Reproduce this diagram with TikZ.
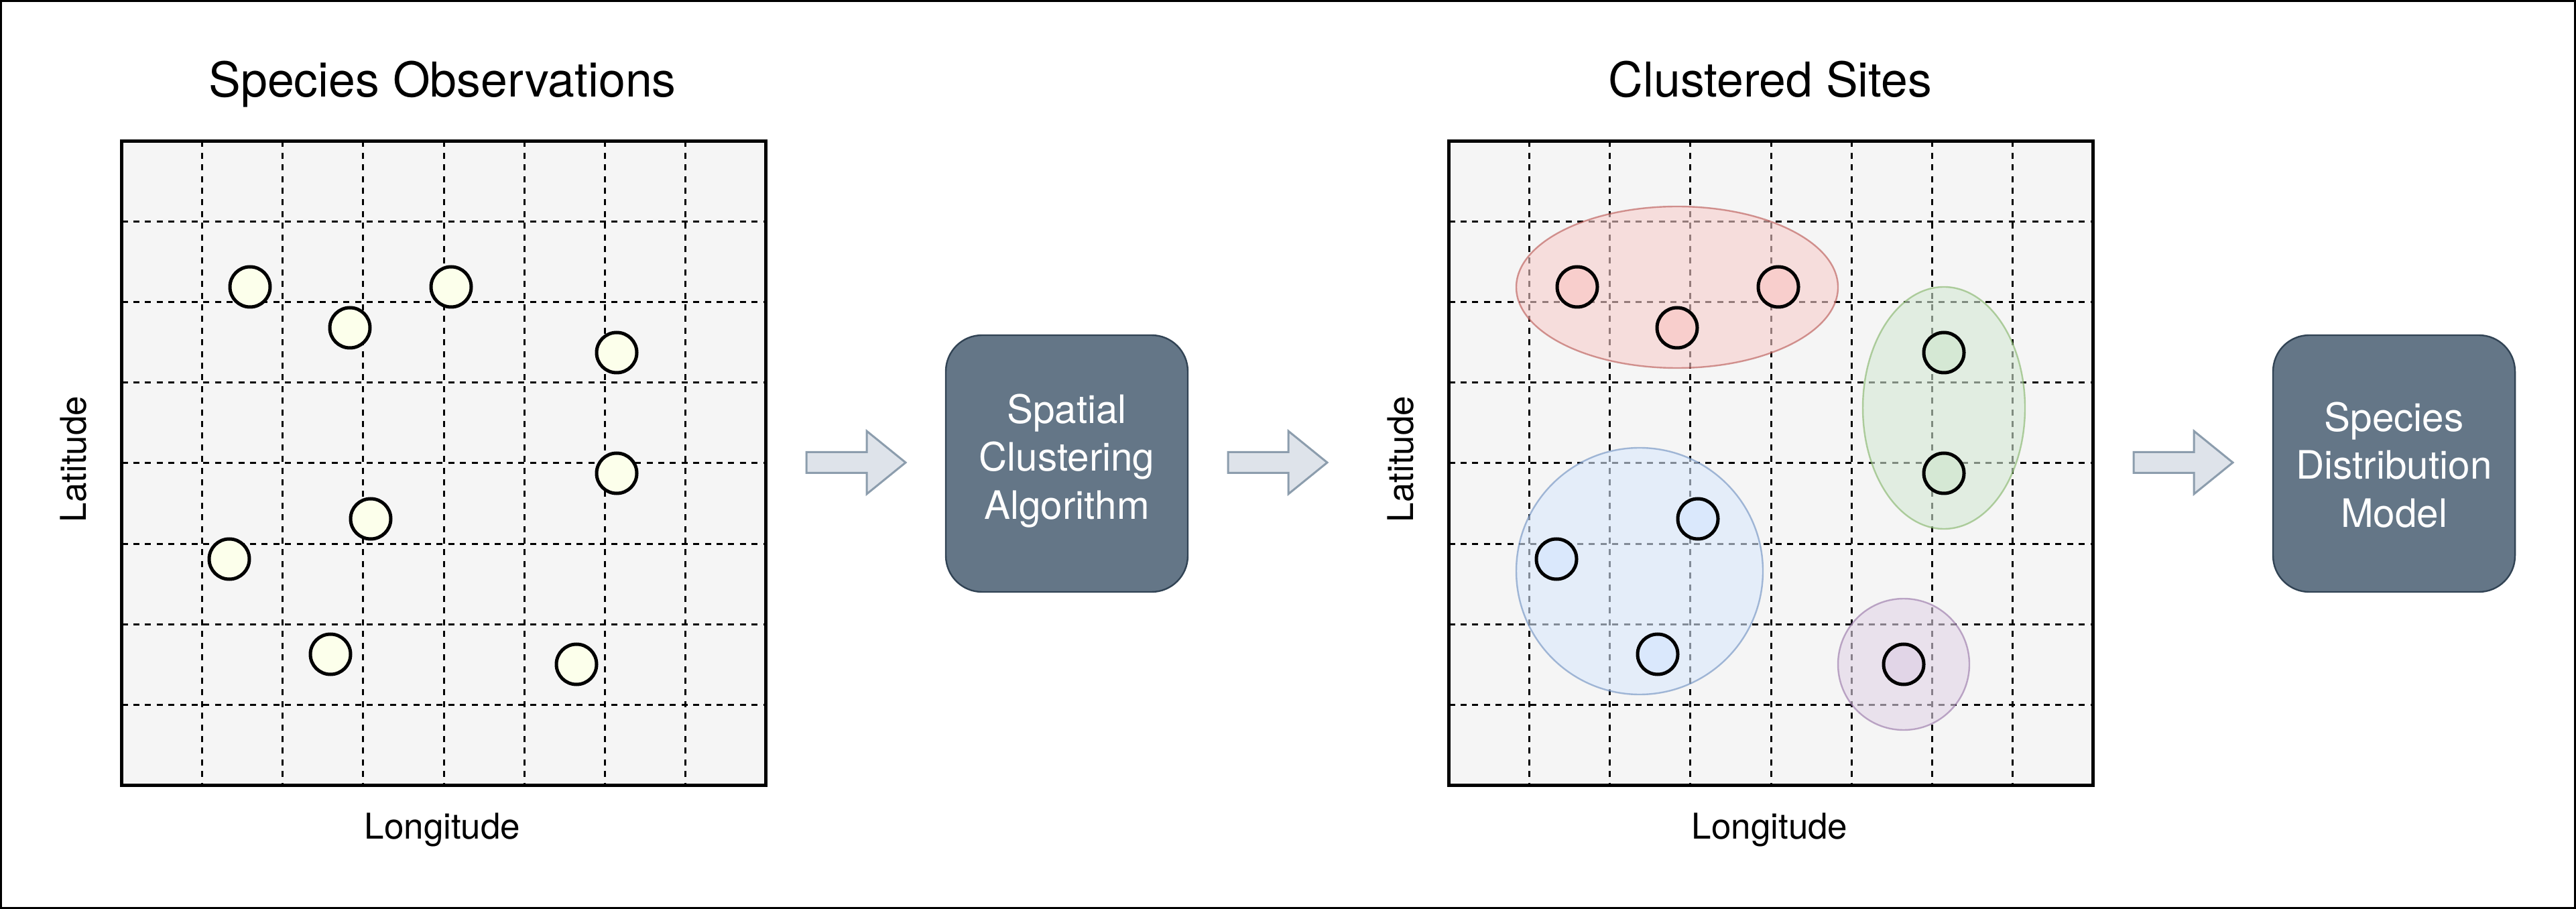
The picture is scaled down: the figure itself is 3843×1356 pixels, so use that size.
\documentclass[tikz,border=0pt]{standalone}
\usepackage{fontspec}
\setmainfont{TeX Gyre Heros}
\usetikzlibrary{shapes.geometric,calc}
\definecolor{gridbg}{HTML}{F5F5F5}
\definecolor{obsfill}{HTML}{FCFFEB}
\definecolor{boxfill}{HTML}{647687}
\definecolor{boxline}{HTML}{314354}
\definecolor{arrfill}{HTML}{DEE3EA}
\definecolor{arrline}{HTML}{8C9DAD}
\definecolor{redf}{HTML}{F8CECC}\definecolor{reds}{HTML}{B85450}
\definecolor{greenf}{HTML}{D5E8D4}\definecolor{greens}{HTML}{82B366}
\definecolor{bluef}{HTML}{DAE8FC}\definecolor{blues}{HTML}{6C8EBF}
\definecolor{purplef}{HTML}{E1D5E7}\definecolor{purples}{HTML}{9673A6}
\newcommand\flowarrow[1]{\draw[blockarrow] (#1) ++(0,-15.5) -- ++(90,0) -- ++(0,-31.5) -- ++(58,47) -- ++(-58,47) -- ++(0,-31.5) -- ++(-90,0) -- cycle;}
\newcommand\mapgrid[1]{%
  \foreach \k in {1,...,7} {
    \draw[gridline] ($(#1.north west)!\k/8!(#1.north east)$) -- ($(#1.south west)!\k/8!(#1.south east)$);
    \draw[gridline] ($(#1.north west)!\k/8!(#1.south west)$) -- ($(#1.north east)!\k/8!(#1.south east)$);
  }%
}
\begin{document}
\begin{tikzpicture}[x=0.25pt,y=-0.25pt,
  mapbox/.style={fill=gridbg,minimum size=240.25pt,inner sep=0pt,outer sep=0pt},
  gridline/.style={line width=0.75pt,dash pattern=on 2.25pt off 2.1pt},
  gridframe/.style={line width=1.25pt,line join=miter},
  site/.style={circle,draw=black,line width=1.25pt,minimum size=15pt,inner sep=0pt},
  obs/.style={site,fill=obsfill},
  cluster/.style={ellipse,draw=#1s,fill=#1f,fill opacity=0.6,draw opacity=0.6,line width=0.6pt,inner sep=0pt},
  procbox/.style={draw=boxline,fill=boxfill,rounded corners=13.5pt,minimum width=90.25pt,minimum height=95.75pt,line width=0.6pt,inner sep=0pt,outer sep=0pt},
  proctext/.style={text=white,align=center,font=\fontsize{14.6}{17.95}\selectfont,inner sep=0pt},
  blockarrow/.style={fill=arrfill,draw=arrline,line width=0.75pt,line join=miter},
  titletext/.style={font=\fontsize{17.9}{21}\selectfont,anchor=base,inner sep=0pt},
  axistext/.style={font=\fontsize{13.25}{16}\selectfont,anchor=base,inner sep=0pt}
]
\useasboundingbox (0,0) rectangle (3843,1356);
\draw[line width=0.75pt] (1.5,1.5) rectangle (3841.5,1354.5);

% ---------- left map ----------
\node[mapbox] (map1) at (662,691) {};
\mapgrid{map1}
\draw[gridframe] (map1.north west) rectangle (map1.south east);
\node[titletext] (t1) at (660,144.5) {Species Observations};
\node[axistext] (lon1) at (660,1251) {Longitude};
\node[axistext,rotate=90] (lat1) at (128.5,685) {Latitude};
\node[obs] (o1) at (373,428) {};
\node[obs] (o2) at (673,428) {};
\node[obs] (o3) at (522,489) {};
\node[obs] (o4) at (920,526) {};
\node[obs] (o5) at (920,706) {};
\node[obs] (o6) at (553,774) {};
\node[obs] (o7) at (342,834) {};
\node[obs] (o8) at (493,976) {};
\node[obs] (o9) at (860,991) {};

% ---------- process boxes ----------
\node[procbox] (alg) at (1591.5,691.5) {};
\node[proctext] (algt) at ([yshift=1pt]alg.center) {Spatial\\Clustering\\Algorithm};
\node[procbox] (sdm) at (3571.5,691.5) {};
\node[proctext] (sdmt) at ([yshift=-0.5pt]sdm.center) {Species\\Distribution\\Model};

% ---------- right map ----------
\node[mapbox] (map2) at (2642,691) {};
\mapgrid{map2}
\draw[gridframe] (map2.north west) rectangle (map2.south east);
\node[titletext] (t2) at (2641,144.5) {Clustered Sites};
\node[axistext] (lon2) at (2640,1251) {Longitude};
\node[axistext,rotate=90] (lat2) at (2108.5,685) {Latitude};

\node[cluster=red,minimum width=120pt,minimum height=60.25pt] (cr) at (2502,428.5) {};
\node[cluster=green,minimum width=60.5pt,minimum height=90.25pt] (cg) at (2900,608.5) {};
\node[cluster=blue,minimum width=92pt,minimum height=92pt] (cb) at (2446,852) {};
\node[cluster=purple,minimum width=49pt,minimum height=49pt] (cp) at (2840,991) {};

\node[site,fill=redf] (s1) at (2353,428) {};
\node[site,fill=redf] (s2) at (2653,428) {};
\node[site,fill=redf] (s3) at (2502,489) {};
\node[site,fill=greenf] (s4) at (2900,526) {};
\node[site,fill=greenf] (s5) at (2900,706) {};
\node[site,fill=bluef] (s6) at (2533,774) {};
\node[site,fill=bluef] (s7) at (2322,834) {};
\node[site,fill=bluef] (s8) at (2473,976) {};
\node[site,fill=purplef] (s9) at (2840,991) {};

% ---------- block arrows ----------
\coordinate (a1) at (1203,690);
\coordinate (a2) at (1832,690);
\coordinate (a3) at (3183,690);
\flowarrow{a1}
\flowarrow{a2}
\flowarrow{a3}
\end{tikzpicture}
\end{document}
